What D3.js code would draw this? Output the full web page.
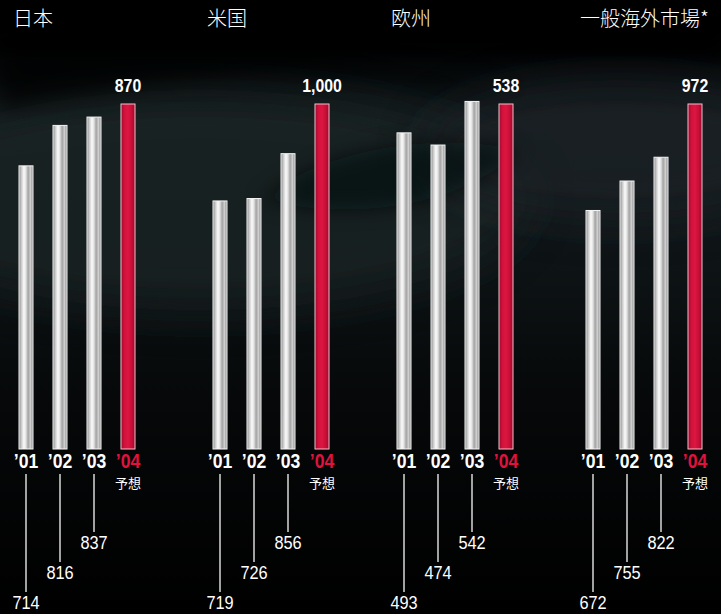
<!DOCTYPE html>
<html><head><meta charset="utf-8">
<script src="https://cdn.jsdelivr.net/npm/d3@7"></script>
<style>
html,body{margin:0;padding:0;background:#000;}
svg{display:block;}
</style></head>
<body>
<script>
// ---- data ----
const regions = ["日本", "米国", "欧州", "一般海外市場*"];
const years = ["’01", "’02", "’03", "’04"];
const japanValues = [714, 816, 837, 870];
const usValues = [719, 726, 856, 1000];
const europeValues = [493, 474, 542, 538];
const overseasValues = [672, 755, 822, 972];
const forecastLabel = "予想";
const seriesValues = [japanValues, usValues, europeValues, overseasValues];

// ---- layout ----
const W = 721, H = 614;
const baseY = 449, topY = 104;
const barW = 14;
const numFont = "'Liberation Sans',Arial,sans-serif";
const cjkFont = "'Noto Sans CJK JP','Noto Sans CJK SC',sans-serif";

const svg = d3.select("body").append("svg").attr("width", W).attr("height", H);
const defs = svg.append("defs");

// background
const bgGrad = defs.append("linearGradient").attr("id","bg").attr("x1",0).attr("y1",0).attr("x2",0).attr("y2",1);
[[0,"#000"],[0.08,"#010203"],[0.2,"#131b1d"],[0.4,"#0f1517"],[0.65,"#060809"],[1,"#000"]].forEach(s=>bgGrad.append("stop").attr("offset",s[0]).attr("stop-color",s[1]));
svg.append("rect").attr("width",W).attr("height",H).attr("fill","url(#bg)");
const blur = defs.append("filter").attr("id","blur").attr("x","-50%").attr("y","-50%").attr("width","200%").attr("height","200%");
blur.append("feGaussianBlur").attr("stdDeviation",22);
const blur2 = defs.append("filter").attr("id","blur2").attr("x","-50%").attr("y","-50%").attr("width","200%").attr("height","200%");
blur2.append("feGaussianBlur").attr("stdDeviation",10);
const bgG = svg.append("g");
bgG.append("ellipse").attr("cx",200).attr("cy",200).attr("rx",330).attr("ry",110).attr("fill","#1d2628").attr("opacity",0.65).attr("filter","url(#blur)");
bgG.append("ellipse").attr("cx",620).attr("cy",150).attr("rx",200).attr("ry",70).attr("fill","#1a2325").attr("opacity",0.7).attr("filter","url(#blur)");
bgG.append("path").attr("d","M260,200 C320,150 430,130 520,150 C470,200 370,225 260,200 Z").attr("fill","#050708").attr("opacity",0.6).attr("filter","url(#blur2)");
bgG.append("path").attr("d","M0,110 C150,80 330,50 520,90 C420,60 200,40 0,60 Z").attr("fill","#000").attr("opacity",0.7).attr("filter","url(#blur2)");
bgG.append("rect").attr("x",0).attr("y",0).attr("width",W).attr("height",50).attr("fill","#000").attr("filter","url(#blur2)");

// bar gradients
const silver = defs.append("linearGradient").attr("id","silver").attr("x1",0).attr("y1",0).attr("x2",1).attr("y2",0);
[[0,"#858585"],[0.15,"#c4c4c4"],[0.35,"#fbfbfb"],[0.5,"#e0e0e0"],[0.65,"#a2a2a2"],[0.82,"#cfcfcf"],[1,"#858585"]].forEach(s=>silver.append("stop").attr("offset",s[0]).attr("stop-color",s[1]));
const red = defs.append("linearGradient").attr("id","red").attr("x1",0).attr("y1",0).attr("x2",1).attr("y2",0);
[[0,"#a00a2c"],[0.25,"#d2123c"],[0.5,"#dc1641"],[0.75,"#c80f38"],[1,"#9a0a2a"]].forEach(s=>red.append("stop").attr("offset",s[0]).attr("stop-color",s[1]));

// scales
const panelX = d3.scaleOrdinal().domain(regions).range([0, 194, 378, 567]);
const barX = d3.scalePoint().domain(years).range([26, 128]);
const labelY = d3.scaleOrdinal().domain(years.slice(0,3)).range([609, 579, 549]);
const fmt = d3.format(",");

regions.forEach((reg, ri) => {
  const vals = seriesValues[ri];
  const y = d3.scaleLinear().domain([0, vals[vals.length-1]]).range([baseY, topY]);
  const g = svg.append("g").attr("transform", `translate(${panelX(reg)},0)`);

  // title
  g.append("text").attr("x", barX(years[0]) - barW/2 - 6).attr("y", 26)
    .attr("fill","#fff").attr("font-family",cjkFont).attr("font-size",20).attr("font-weight",300).text(reg);

  const data = years.map((yr,i)=>({yr, v: vals[i], last: i===years.length-1}));

  g.selectAll("rect.bar").data(data).join("rect").attr("class","bar")
    .attr("x", d=>barX(d.yr)-barW/2).attr("y", d=>y(d.v))
    .attr("width", barW).attr("height", d=>baseY - y(d.v))
    .attr("fill", d=>d.last ? "url(#red)" : "url(#silver)")
    .attr("stroke", d=>d.last ? "#f2c0cc" : "#f4f4f4").attr("stroke-width",1);

  // year labels (condensed via horizontal scale)
  g.selectAll("text.yr").data(data).join("text").attr("class","yr")
    .attr("transform", d=>`translate(${barX(d.yr)},468) scale(0.84,1)`)
    .attr("text-anchor","middle")
    .attr("fill", d=>d.last ? "#e0123e" : "#fff")
    .attr("font-family", numFont).attr("font-weight","bold").attr("font-size",21)
    .text(d=>d.yr);

  // forecast label
  g.append("text").attr("x", barX(years[3])).attr("y", 488).attr("text-anchor","middle")
    .attr("fill","#fff").attr("font-family",cjkFont).attr("font-size",13).text(forecastLabel);

  // top value of forecast
  g.append("text").attr("transform", `translate(${barX(years[3])},92) scale(0.88,1)`).attr("text-anchor","middle")
    .attr("fill","#fff").attr("font-family",numFont).attr("font-weight","bold").attr("font-size",18)
    .text(fmt(vals[3]));

  // leader lines and bottom values
  const hist = data.slice(0,3);
  g.selectAll("line.lead").data(hist).join("line").attr("class","lead")
    .attr("x1", d=>barX(d.yr)).attr("x2", d=>barX(d.yr))
    .attr("y1", 474).attr("y2", d=>labelY(d.yr) - 17)
    .attr("stroke","#d8d8d8").attr("stroke-width",1.5);
  g.selectAll("text.val").data(hist).join("text").attr("class","val")
    .attr("transform", d=>`translate(${barX(d.yr)},${labelY(d.yr)}) scale(0.86,1)`).attr("text-anchor","middle")
    .attr("fill","#fff").attr("font-family",numFont).attr("font-size",19)
    .text(d=>fmt(d.v));
});
</script>
</body></html>
